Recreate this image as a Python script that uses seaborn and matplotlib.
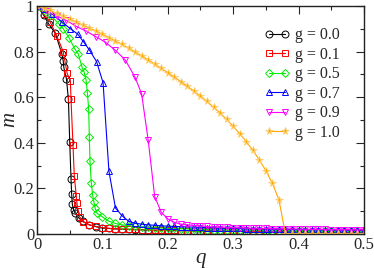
import numpy as np
import pandas as pd
import seaborn as sns
import matplotlib.pyplot as plt
from matplotlib.ticker import MultipleLocator, FixedFormatter, FixedLocator

# Datos: m(q) para cada g
q_tail = [0.11, 0.12, 0.13, 0.14, 0.15, 0.16, 0.17, 0.18, 0.19, 0.20,
          0.21, 0.22, 0.23, 0.24, 0.25, 0.26, 0.27, 0.28, 0.29, 0.30,
          0.31, 0.32, 0.33, 0.34, 0.35, 0.36, 0.37, 0.38, 0.39, 0.40,
          0.41, 0.42, 0.43, 0.44, 0.45, 0.46, 0.47, 0.48, 0.49, 0.50]

q_g00 = [0, 0.01, 0.018, 0.028, 0.038, 0.040, 0.041, 0.045, 0.048, 0.050,
         0.052, 0.053, 0.054, 0.056, 0.058, 0.064, 0.07, 0.08, 0.09, 0.10] + q_tail
m_g00 = [1.0, 0.96, 0.92, 0.88, 0.79, 0.76, 0.73, 0.68, 0.59, 0.405,
         0.24, 0.175, 0.13, 0.105, 0.093, 0.07, 0.055, 0.04, 0.032, 0.026,
         0.024, 0.022, 0.021, 0.020, 0.019, 0.018, 0.017, 0.016, 0.016, 0.015,
         0.015, 0.014, 0.014, 0.013, 0.013, 0.012, 0.012, 0.012, 0.011, 0.011,
         0.011, 0.010, 0.010, 0.010, 0.010, 0.009, 0.009, 0.009, 0.009, 0.009,
         0.008, 0.008, 0.008, 0.008, 0.008, 0.008, 0.007, 0.007, 0.007, 0.007]

q_g01 = [0, 0.01, 0.02, 0.03, 0.04, 0.046, 0.051, 0.052, 0.055, 0.057,
         0.06, 0.061, 0.063, 0.065, 0.071, 0.08, 0.09, 0.10] + q_tail
m_g01 = [1.0, 0.965, 0.93, 0.87, 0.80, 0.705, 0.67, 0.59, 0.39, 0.255,
         0.167, 0.136, 0.10, 0.076, 0.053, 0.04, 0.033, 0.028,
         0.025, 0.023, 0.022, 0.021, 0.020, 0.019, 0.018, 0.017, 0.017, 0.016,
         0.016, 0.015, 0.015, 0.014, 0.014, 0.013, 0.013, 0.013, 0.012, 0.012,
         0.012, 0.011, 0.011, 0.011, 0.010, 0.010, 0.010, 0.010, 0.009, 0.009,
         0.009, 0.009, 0.009, 0.008, 0.008, 0.008, 0.008, 0.008, 0.008, 0.008]

q_g05 = [0, 0.01, 0.02, 0.034, 0.04, 0.049, 0.058, 0.063, 0.069, 0.072,
         0.075, 0.077, 0.079, 0.080, 0.081, 0.083, 0.085, 0.087, 0.089, 0.092,
         0.10] + q_tail
m_g05 = [1.0, 0.98, 0.96, 0.92, 0.90, 0.86, 0.81, 0.79, 0.73, 0.71,
         0.675, 0.62, 0.547, 0.427, 0.32, 0.225, 0.172, 0.14, 0.112, 0.09,
         0.075,
         0.056, 0.046, 0.040, 0.036, 0.033, 0.031, 0.029, 0.027, 0.026, 0.025,
         0.024, 0.023, 0.022, 0.021, 0.020, 0.019, 0.019, 0.018, 0.017, 0.017,
         0.016, 0.016, 0.015, 0.015, 0.014, 0.014, 0.014, 0.013, 0.013, 0.013,
         0.012, 0.012, 0.012, 0.011, 0.011, 0.011, 0.011, 0.010, 0.010, 0.010]

q_g07 = [0, 0.01, 0.023, 0.038, 0.051, 0.062, 0.071, 0.08, 0.091, 0.101] + q_tail
m_g07 = [1.0, 0.985, 0.965, 0.93, 0.90, 0.877, 0.843, 0.807, 0.756, 0.664,
         0.275, 0.114, 0.08, 0.056, 0.047, 0.043, 0.040, 0.038, 0.036, 0.034,
         0.033, 0.032, 0.031, 0.030, 0.029, 0.028, 0.027, 0.026, 0.025, 0.025,
         0.024, 0.023, 0.023, 0.022, 0.022, 0.021, 0.021, 0.020, 0.020, 0.019,
         0.019, 0.018, 0.018, 0.018, 0.017, 0.017, 0.017, 0.016, 0.016, 0.016]

q_g09 = [0, 0.015, 0.03, 0.045, 0.06, 0.075, 0.09, 0.105, 0.12, 0.135,
         0.15, 0.16, 0.17, 0.18, 0.19, 0.20, 0.21, 0.22, 0.23, 0.24,
         0.25, 0.26, 0.27, 0.28, 0.29, 0.30, 0.31, 0.32, 0.33, 0.34,
         0.35, 0.36, 0.37, 0.38, 0.39, 0.40, 0.41, 0.42, 0.43, 0.44,
         0.45, 0.46, 0.47, 0.48, 0.49, 0.50]
m_g09 = [1.0, 0.978, 0.956, 0.936, 0.91, 0.89, 0.865, 0.84, 0.805, 0.763,
         0.687, 0.614, 0.412, 0.164, 0.095, 0.066, 0.051, 0.043, 0.040, 0.037,
         0.035, 0.033, 0.031, 0.030, 0.029, 0.028, 0.027, 0.026, 0.025, 0.025,
         0.024, 0.023, 0.023, 0.022, 0.022, 0.021, 0.021, 0.020, 0.020, 0.020,
         0.019, 0.019, 0.019, 0.018, 0.018, 0.018]

q_g10 = [0, 0.01, 0.02, 0.03, 0.04, 0.05, 0.06, 0.07, 0.08, 0.09, 0.10] + q_tail
m_g10 = [1.0, 0.99, 0.98, 0.967, 0.955, 0.942, 0.93, 0.916, 0.903, 0.89, 0.876,
         0.861, 0.846, 0.831, 0.815, 0.798, 0.781, 0.763, 0.745, 0.726, 0.707,
         0.688, 0.668, 0.648, 0.626, 0.604, 0.581, 0.556, 0.53, 0.502, 0.472,
         0.44, 0.405, 0.367, 0.325, 0.278, 0.222, 0.15, 0.0, 0.0, 0.0,
         0.0, 0.0, 0.0, 0.0, 0.0, 0.0, 0.0, 0.0, 0.0, 0.0]

series = [
    ("g = 0.0", q_g00, m_g00, "black", "o"),
    ("g = 0.1", q_g01, m_g01, "red", "s"),
    ("g = 0.5", q_g05, m_g05, "#00ee00", "D"),
    ("g = 0.7", q_g07, m_g07, "blue", "^"),
    ("g = 0.9", q_g09, m_g09, "magenta", "v"),
    ("g = 1.0", q_g10, m_g10, "orange", "*"),
]

sns.set_style("ticks")
plt.rcParams["font.family"] = ["Liberation Serif", "DejaVu Serif"]

fig = plt.figure(figsize=(3.74, 2.68), dpi=100)
ax = fig.add_axes([0.099, 0.127, 0.874, 0.851])

for label, q, m, color, marker in series:
    df = pd.DataFrame({"q": q, "m": m})
    if marker == "*":
        sns.lineplot(data=df, x="q", y="m", ax=ax, color=color, lw=0.8,
                     marker=marker, ms=5.5, mfc=color, mec="#ffcc66", mew=0.6,
                     label=label, errorbar=None)
    else:
        ms = {"o": 5, "s": 4.8, "D": 3.8, "^": 4.6, "v": 4.6}[marker]
        sns.lineplot(data=df, x="q", y="m", ax=ax, color=color, lw=0.8,
                     marker=marker, ms=ms, mfc="none", mec=color, mew=0.7,
                     label=label, errorbar=None)

ax.set_xlim(0, 0.5)
ax.set_ylim(0, 1)
ax.xaxis.set_major_locator(FixedLocator([0, 0.1, 0.2, 0.3, 0.4, 0.5]))
ax.xaxis.set_major_formatter(FixedFormatter(["0", "0.1", "0.2", "0.3", "0.4", "0.5"]))
ax.xaxis.set_minor_locator(MultipleLocator(0.05))
ax.yaxis.set_major_locator(FixedLocator([0, 0.2, 0.4, 0.6, 0.8, 1.0]))
ax.yaxis.set_major_formatter(FixedFormatter(["0", "0.2", "0.4", "0.6", "0.8", "1"]))
ax.yaxis.set_minor_locator(MultipleLocator(0.1))
ax.tick_params(which="both", direction="in", top=True, right=True,
               labelsize=12, width=0.8, pad=2)
ax.tick_params(which="major", length=6)
ax.tick_params(which="minor", length=3)
for s in ax.spines.values():
    s.set_linewidth(1.0)
    s.set_color("#222222")

ax.set_xlabel("q", fontsize=15, style="italic", labelpad=-3)
ax.set_ylabel("m", fontsize=15, style="italic", labelpad=-4)

ax.legend(loc="upper right", bbox_to_anchor=(0.96, 0.955), frameon=False,
          numpoints=2, handlelength=1.6, handletextpad=0.3, labelspacing=0.22,
          fontsize=11.5, borderpad=0.2)

fig.savefig("out.png", dpi=100)
